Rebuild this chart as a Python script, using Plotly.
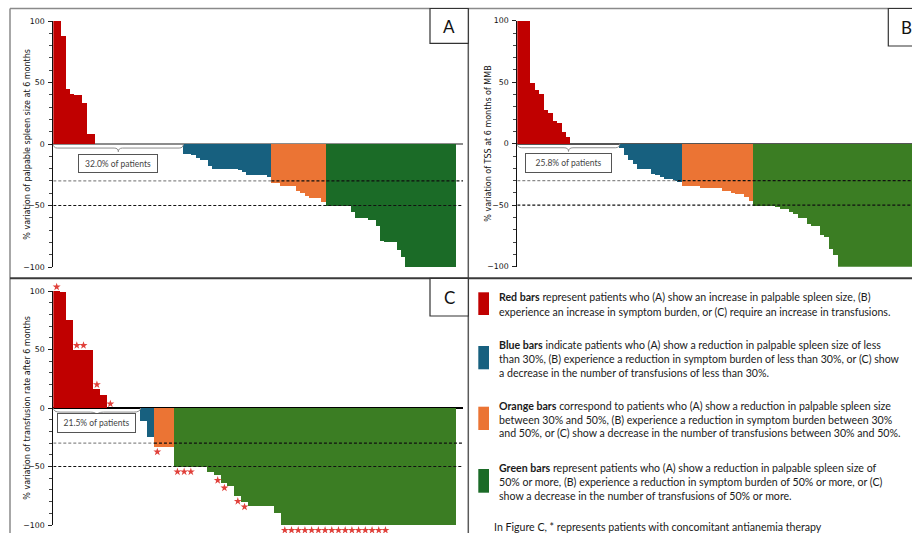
import plotly.graph_objects as go

W, H = 912, 533

# ---------------- data ----------------
# Panel A: % variation of palpable spleen size at 6 months
A_red = [100, 100, 88, 45, 41, 40, 40, 33, 8, 8]
A_zero = 21
A_blue = [-8, -8, -9, -11, -13, -13, -18, -20, -20, -20, -20, -20, -20, -21, -23,
          -25, -25, -25, -25, -25, -27]
A_orange = [-32, -32, -34, -34, -34, -34, -38, -40, -42, -44, -44, -44, -47]
A_green = [-50, -50, -50, -50, -50, -50, -55, -60, -60, -60, -62, -62, -67, -79,
           -80, -80, -80, -86, -92, -100, -100, -100, -100, -100, -100, -100,
           -100, -100, -100, -100, -100]

# Panel B: % variation of TSS at 6 months of MMB
B_red = [100, 100, 100, 50, 44, 41, 28, 25, 19, 17, 10, 6]
B_zero = 11
B_blue = [-3.5, -9, -13, -16, -20, -20, -20, -24, -25, -27, -28.7, -28.7, -29.8, -31]
B_orange = [-34, -34, -34, -34, -35.5, -35.5, -35.5, -35.5, -35.5, -38, -38, -39.6,
            -40.4, -40.4, -42.8, -46]
B_green = [-50, -50, -50, -50, -50, -51.5, -53, -53, -55, -57, -60, -60, -65, -67,
           -67, -74, -75.3, -85.6, -90, -100, -100, -100, -100, -100, -100, -100,
           -100, -100, -100, -100, -100, -100, -100, -100, -100, -100]

# Panel C: % variation of transfusion rate after 6 months
C_red = [100, 99, 75, 50, 50, 50, 16.5, 11]
C_zero = 5
C_blue = [-11, -25]
C_orange = [-33, -33, -33]
C_green = [-50, -50, -50, -50, -50, -54.4, -57.3, -63.8, -66.7, -75.2, -80, -83.8,
           -83.8, -83.8, -83.8, -90, -100, -100, -100, -100, -100, -100, -100, -100,
           -100, -100, -100, -100, -100, -100, -100, -100, -100, -100, -100, -100,
           -100, -100, -100, -100, -100, -100]
# patients with concomitant antianemia therapy (bar indices in panel C)
C_star_idx = [0, 3, 4, 6, 8, 15, 18, 19, 20, 24, 25, 27, 28, 34, 35, 36, 37, 38, 39,
              40, 41, 42, 43, 44, 45, 46, 47, 48, 49]

pct_labels = {"A": "32.0% of patients", "B": "25.8% of patients", "C": "21.5% of patients"}
y_titles = {"A": "% variation of palpable spleen size at 6 months",
            "B": "% variation of TSS at 6 months of MMB",
            "C": "% variation of transfusion rate after 6 months"}
tick_vals = [-100, -50, 0, 50, 100]

RED = "#C00000"
BLUE = "#17607F"
ORANGE = "#EB7434"
GREEN_A = "#1B6B27"
GREEN_BC = "#3B7D23"
STAR = "#E0403A"


def px(x):
    return x / W


def py(y):
    return 1 - y / H


fig = go.Figure()
shapes = []
annots = []


def add_panel(key, red, nzero, blue, orange, green, green_col, xa, ya, x_end,
              brace_depth, brace_tip, box_y, box_w, box_h):
    groups = [(red, RED), (nzero, None), (blue, BLUE), (orange, ORANGE), (green, green_col)]
    pos = 0
    allv = []
    for vals, col in groups:
        if col is None:
            allv += [0] * vals
            pos += vals
            continue
        xs = list(range(pos, pos + len(vals)))
        fig.add_trace(go.Bar(x=xs, y=vals, width=1, xaxis=xa, yaxis=ya,
                             marker=dict(color=col, line=dict(width=0)),
                             showlegend=False, hoverinfo="skip"))
        pos += len(vals)
        allv += vals
    # reference lines at -30 / -50
    first30 = next(i for i, v in enumerate(allv) if v <= -30) - 0.5
    shapes.append(dict(type="line", xref=xa, yref=ya, x0=-0.5, x1=first30, y0=-30, y1=-30,
                       line=dict(color="#8a8a8a", width=1.2, dash="3px,2px"), layer="above"))
    shapes.append(dict(type="line", xref=xa, yref=ya, x0=first30, x1=x_end, y0=-30, y1=-30,
                       line=dict(color="#111", width=1.2, dash="3px,2px"), layer="above"))
    shapes.append(dict(type="line", xref=xa, yref=ya, x0=-0.5, x1=x_end, y0=-50, y1=-50,
                       line=dict(color="#111", width=1.2, dash="3px,2px"), layer="above"))
    # brace under the non-negative patients
    nn = len(red) + nzero
    x0, x1 = -0.5, nn - 0.5
    xm = (x0 + x1) / 2
    r = 1.0
    d, t = brace_depth, brace_tip
    path = (f"M {x0},0 Q {x0},{-d} {x0 + r},{-d} L {xm - r},{-d} Q {xm},{-d} {xm},{-t} "
            f"Q {xm},{-d} {xm + r},{-d} L {x1 - r},{-d} Q {x1},{-d} {x1},0")
    shapes.append(dict(type="path", xref=xa, yref=ya, path=path,
                       line=dict(color="#8c8c8c", width=1)))
    annots.append(dict(xref=xa, yref=ya, x=xm, y=box_y, text=pct_labels[key],
                       showarrow=False, font=dict(family="Lato", size=8.5, color="#444"),
                       bordercolor="#555", borderwidth=1, borderpad=2, bgcolor="white",
                       width=box_w, height=box_h, xanchor="center", yanchor="middle"))
    return allv


valsA = add_panel("A", A_red, A_zero, A_blue, A_orange, A_green, GREEN_A, "x", "y",
                  97.17, 3.3, 6.3, -16, 74, 13)
valsB = add_panel("B", B_red, B_zero, B_blue, B_orange, B_green, GREEN_BC, "x2", "y2",
                  88.2, 3.3, 6.3, -15.5, 81, 14)
valsC = add_panel("C", C_red, C_zero, C_blue, C_orange, C_green, GREEN_BC, "x3", "y3",
                  60.6, 3.5, 6.8, -13, 73, 14)

# panel C vertical geometry (pixels of +100 / -100)
C_top, C_bot = 291.0, 525.0
ppu = (C_bot - C_top) / 200.0
ext = 106.0
y4_dom = [py(C_bot + (ext - 100) * ppu), py(C_top - (ext - 100) * ppu)]

# stars on panel C (drawn on an invisible twin axis with the same scale so they are not hidden)
star_y = [valsC[i] + 3.5 if valsC[i] >= 0 else valsC[i] - 4.5 for i in C_star_idx]
fig.add_trace(go.Scatter(x=C_star_idx, y=star_y, mode="markers", xaxis="x3", yaxis="y4",
                         marker=dict(symbol="star", size=6, color=STAR, line=dict(width=0)),
                         cliponaxis=False, showlegend=False, hoverinfo="skip"))

xax = dict(showgrid=False, zeroline=False, showticklabels=False, showline=False, ticks="",
           fixedrange=True, automargin=False)


def yax(domain, anchor, zcol):
    return dict(domain=domain, anchor=anchor, range=[-100, 100], tickvals=tick_vals,
                ticks="outside", ticklen=4, tickwidth=1, tickcolor="#222",
                minor=dict(dtick=10, tick0=0, ticks="outside", ticklen=3, tickcolor="#444"),
                showline=True, linecolor="#111", linewidth=1.2, showgrid=False,
                zeroline=True, zerolinecolor=zcol, zerolinewidth=1.6,
                tickfont=dict(family="DejaVu Sans", size=7.8, color="#111"),
                ticklabelstandoff=2, automargin=False, fixedrange=True)


fig.update_layout(
    width=W, height=H, margin=dict(l=0, r=0, t=0, b=0, autoexpand=False),
    paper_bgcolor="white", plot_bgcolor="rgba(0,0,0,0)",
    barmode="overlay", bargap=0,
    xaxis=dict(xax, domain=[px(53.3), px(463)], range=[-0.5, 97.17], anchor="y"),
    yaxis=yax([py(267), py(21)], "x", "#8c8c8c"),
    xaxis2=dict(xax, domain=[px(517.3), 1], range=[-0.5, 88.12], anchor="y2"),
    yaxis2=yax([py(266.7), py(20.7)], "x2", "#555"),
    xaxis3=dict(xax, domain=[px(53.3), px(463.3)], range=[-0.5, 60.6], anchor="y3"),
    yaxis3=yax([py(C_bot), py(C_top)], "x3", "#000"),
    yaxis4=dict(domain=y4_dom, anchor="x3", range=[-ext, ext], visible=False,
                automargin=False, fixedrange=True, showgrid=False, zeroline=False),
)

# axis titles
for key, xc, yc in [("A", 26.7, 144), ("B", 487.7, 144), ("C", 26.7, 408)]:
    annots.append(dict(xref="paper", yref="paper", x=px(xc), y=py(yc), text=y_titles[key],
                       textangle=-90, showarrow=False, xanchor="center", yanchor="middle",
                       font=dict(family="DejaVu Sans", size=8, color="#111")))

# panel frames
frame = dict(color="#5a5a5a", width=1.5)
shapes += [
    dict(type="line", xref="paper", yref="paper", x0=px(10), x1=1, y0=py(8.5), y1=py(8.5), line=dict(color="#8a8a8a", width=1.5)),
    dict(type="line", xref="paper", yref="paper", x0=px(10), x1=px(10), y0=py(8.5), y1=0, line=dict(color="#8a8a8a", width=1.5)),
    dict(type="line", xref="paper", yref="paper", x0=px(468.3), x1=px(468.3), y0=py(8.5), y1=0, line=frame),
    dict(type="line", xref="paper", yref="paper", x0=px(10), x1=1, y0=py(278.3), y1=py(278.3), line=dict(color="#3a3a3a", width=2)),
]
# panel letter boxes
for lab, x0, x1, y0, y1, tx in [("A", 430, 468.3, 8.5, 43.3, 449), ("B", 888.3, 935, 8.5, 46, 906),
                                 ("C", 430, 468.3, 278.3, 316, 449)]:
    shapes.append(dict(type="rect", xref="paper", yref="paper", x0=px(x0), x1=px(x1),
                       y0=py(y0), y1=py(y1), line=dict(color="#333", width=1.2),
                       fillcolor="white", layer="above"))
    annots.append(dict(xref="paper", yref="paper", x=px(tx), y=py((y0 + y1) / 2 + 0.5), text=lab,
                       showarrow=False, xanchor="center", yanchor="middle",
                       font=dict(family="Lato", size=17, color="#111")))

# explanatory legend
legend_items = [
    (RED, 292.3, 315, [(297.3, "<b>Red bars</b> represent patients who (A) show an increase in palpable spleen size, (B)"),
                       (311.7, "experience an increase in symptom burden, or (C) require an increase in transfusions.")]),
    (BLUE, 346, 369.3, [(345, "<b>Blue bars</b> indicate patients who (A) show a reduction in palpable spleen size of less"),
                        (359, "than 30%, (B) experience a reduction in symptom burden of less than 30%, or (C) show"),
                        (373.3, "a decrease in the number of transfusions of less than 30%.")]),
    (ORANGE, 406.7, 430, [(405.7, "<b>Orange bars</b> correspond to patients who (A) show a reduction in palpable spleen size"),
                          (419.5, "between 30% and 50%, (B) experience a reduction in symptom burden between 30%"),
                          (433.3, "and 50%, or (C) show a decrease in the number of transfusions between 30% and 50%.")]),
    (GREEN_A, 469, 492.7, [(467.7, "<b>Green bars</b> represent patients who (A) show a reduction in palpable spleen size of"),
                           (481.7, "50% or more, (B) experience a reduction in symptom burden of 50% or more, or (C)"),
                           (495.7, "show a decrease in the number of transfusions of 50% or more.")]),
]
for col, s0, s1, lines in legend_items:
    shapes.append(dict(type="rect", xref="paper", yref="paper", x0=px(478.3), x1=px(489),
                       y0=py(s0), y1=py(s1), fillcolor=col, line=dict(width=0)))
    for yy, txt in lines:
        annots.append(dict(xref="paper", yref="paper", x=px(496.7), y=py(yy), text=txt,
                           showarrow=False, xanchor="left", yanchor="middle",
                           font=dict(family="Lato", size=10.6, color="#1a1a1a")))
annots.append(dict(xref="paper", yref="paper", x=px(491.7), y=py(526.5),
                   text="In Figure C, * represents patients with concomitant antianemia therapy",
                   showarrow=False, xanchor="left", yanchor="middle",
                   font=dict(family="Lato", size=10.6, color="#1a1a1a")))

fig.update_layout(shapes=shapes, annotations=annots)
fig.write_html("out.html", config={"displayModeBar": False},
               post_script="document.body.style.margin='0';document.body.style.overflow='hidden';")
